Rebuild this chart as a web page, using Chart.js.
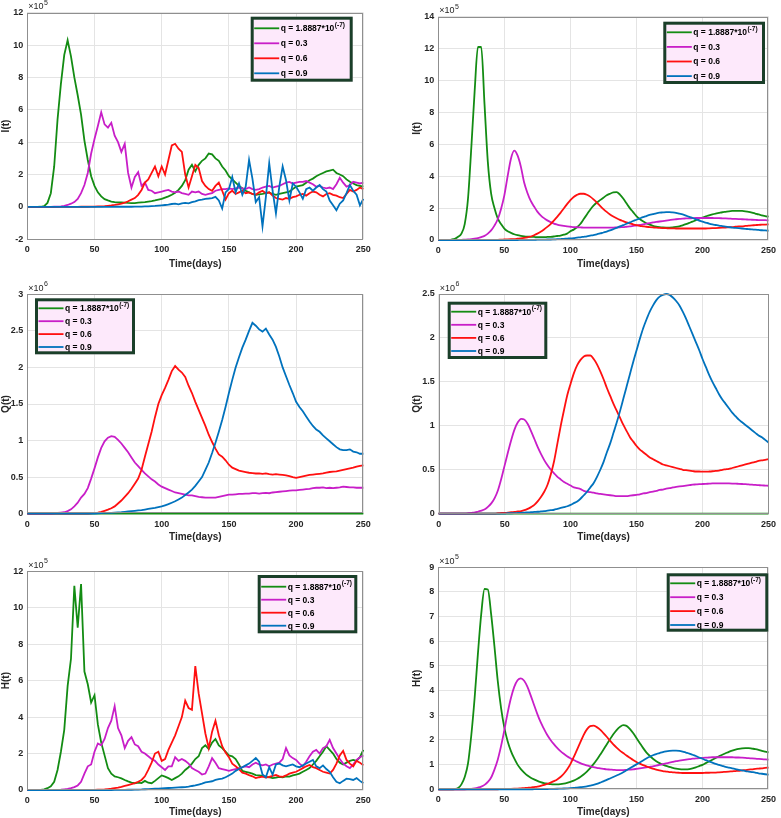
<!DOCTYPE html>
<html>
<head>
<meta charset="utf-8">
<script src="https://cdn.jsdelivr.net/npm/chart.js@4.4.1/dist/chart.umd.min.js"></script>
<style>
  body { margin: 0; background: #fff; width: 781px; height: 818px; position: relative; overflow: hidden; }
  canvas { position: absolute; }
</style>
</head>
<body>
<canvas id="iSde" width="390" height="280" style="left:0;top:0"></canvas>
<canvas id="iOde" width="391" height="280" style="left:390px;top:0"></canvas>
<canvas id="qSde" width="390" height="290" style="left:0;top:265px"></canvas>
<canvas id="qOde" width="391" height="290" style="left:390px;top:265px"></canvas>
<canvas id="hSde" width="390" height="280" style="left:0;top:540px"></canvas>
<canvas id="hOde" width="391" height="280" style="left:390px;top:540px"></canvas>
<script>
// sampling grid (days)
const DAYS = [
  0,2.5,5,7.5,10,12.5,15,17.5,20,22.5,
  25,27.5,30,32.5,35,37.5,40,42.5,45,47.5,
  50,52.5,55,57.5,60,62.5,65,67.5,70,72.5,
  75,77.5,80,82.5,85,87.5,90,92.5,95,97.5,
  100,102.5,105,107.5,110,112.5,115,117.5,120,122.5,
  125,127.5,130,132.5,135,137.5,140,142.5,145,147.5,
  150,152.5,155,157.5,160,162.5,165,167.5,170,172.5,
  175,177.5,180,182.5,185,187.5,190,192.5,195,197.5,
  200,202.5,205,207.5,210,212.5,215,217.5,220,222.5,
  225,227.5,230,232.5,235,237.5,240,242.5,245,247.5,
  250
];

const LEGEND_LABELS = ['q = 1.8887*10', 'q = 0.3', 'q = 0.6', 'q = 0.9'];
const LEGEND_SUP = '(-7)';
const X_TICKS = [0, 50, 100, 150, 200, 250];

// I(t), stochastic, x10^5
const I_SDE_G = [
  0,0,0,0,0.01,0.05,0.25,0.85,2.5,5.4,
  7.6,9.4,10.3,9.3,8.0,6.9,5.7,4.1,2.9,1.9,
  1.3,0.9,0.65,0.48,0.4,0.33,0.3,0.28,0.28,0.27,
  0.25,0.24,0.24,0.26,0.28,0.3,0.33,0.36,0.4,0.45,
  0.5,0.58,0.65,0.75,0.88,1.05,1.3,1.65,2.3,2.6,
  2.2,2.6,2.85,3.0,3.3,3.25,3.0,2.85,2.5,2.25,
  1.9,1.7,1.5,1.3,1.15,1.0,0.9,0.8,0.75,0.78,
  0.8,0.85,0.9,0.8,0.75,0.8,0.85,0.9,0.95,1.1,
  1.25,1.3,1.35,1.5,1.65,1.75,1.9,2.0,2.1,2.2,
  2.25,2.3,2.1,2.0,1.9,1.7,1.55,1.45,1.35,1.3,
  1.25
];
const I_SDE_M = [
  0,0,0,0,0,0,0,0,0.01,0.02,
  0.04,0.07,0.12,0.2,0.3,0.5,0.85,1.35,2.1,3.3,
  4.2,5.0,5.85,5.1,4.9,5.2,4.4,4.0,3.4,3.9,
  2.1,1.2,1.85,2.15,1.3,1.5,1.05,1.0,0.85,0.9,
  0.95,1.0,1.05,0.95,0.9,0.95,0.85,0.8,0.75,0.95,
  0.9,0.95,0.8,0.75,0.8,0.85,1.0,1.05,1.1,1.1,
  1.15,1.1,1.15,1.2,1.15,1.1,1.2,1.1,1.05,1.1,
  1.2,1.25,1.3,1.2,1.25,1.3,1.4,1.5,1.55,1.45,
  1.5,1.55,1.55,1.6,1.5,1.4,1.25,1.3,1.2,1.15,
  1.2,1.1,1.4,1.8,1.5,1.25,1.35,1.55,1.5,1.45,
  1.5
];
const I_SDE_R = [
  0,0,0,0,0,0,0,0,0,0,
  0,0,0,0,0,0,0.01,0.01,0.01,0.02,
  0.02,0.03,0.04,0.05,0.07,0.09,0.12,0.16,0.2,0.26,
  0.35,0.45,0.55,0.75,1.05,1.5,1.7,2.1,2.5,1.9,
  2.5,2.0,2.9,3.8,3.9,3.6,3.4,2.0,1.2,1.9,
  2.6,2.4,1.6,1.3,1.1,1.0,1.3,1.5,1.0,0.45,
  0.85,1.0,0.8,0.9,1.0,0.85,0.9,0.8,0.75,0.9,
  1.0,0.85,0.9,0.7,0.55,0.5,0.45,0.55,0.5,0.6,
  0.65,0.75,0.8,0.7,0.85,0.95,0.9,0.75,0.65,0.8,
  0.85,0.75,0.7,0.6,0.55,0.8,1.05,0.95,1.05,1.2,
  1.1
];
const I_SDE_B = [
  0,0,0,0,0,0,0,0,0,0,
  0,0,0,0,0,0,0,0,0,0,
  0,0,0,0,0,0,0.01,0.01,0.01,0.01,
  0.01,0.01,0.02,0.02,0.02,0.03,0.04,0.05,0.06,0.08,
  0.1,0.12,0.14,0.18,0.2,0.16,0.22,0.25,0.22,0.3,
  0.35,0.42,0.45,0.5,0.52,0.55,0.62,0.4,-0.1,0.9,
  1.1,1.85,0.9,1.45,0.75,1.25,2.9,1.75,0.3,0.6,
  -1.2,0.6,2.7,1.0,-0.4,1.25,2.5,1.65,0.4,1.45,
  1.25,0.9,0.5,1.1,1.2,1.0,1.2,1.35,1.1,0.95,
  0.4,0.1,-0.2,0.2,0.4,0.85,1.35,1.0,0.75,0.1,
  0.5
];

// I(t), deterministic, x10^5
const I_ODE_G = [
  0,0,0,0.01,0.03,0.08,0.2,0.4,1.0,2.6,
  5.8,9.3,12.1,12.1,8.5,4.9,2.9,2.0,1.35,1.0,
  0.72,0.55,0.45,0.36,0.3,0.26,0.23,0.21,0.2,0.19,
  0.18,0.18,0.18,0.19,0.2,0.22,0.25,0.28,0.33,0.4,
  0.55,0.65,0.8,1.0,1.3,1.6,1.9,2.15,2.35,2.5,
  2.65,2.8,2.9,2.98,3.0,2.85,2.6,2.3,2.0,1.75,
  1.5,1.32,1.17,1.05,0.96,0.89,0.84,0.81,0.79,0.78,
  0.78,0.79,0.82,0.86,0.92,0.99,1.07,1.15,1.24,1.33,
  1.41,1.48,1.55,1.61,1.66,1.7,1.74,1.77,1.8,1.82,
  1.83,1.83,1.82,1.8,1.77,1.72,1.66,1.6,1.55,1.5,
  1.46
];
const I_ODE_M = [
  0,0,0,0,0,0,0,0.01,0.02,0.03,
  0.05,0.08,0.12,0.18,0.26,0.4,0.6,0.9,1.3,1.95,
  2.8,4.0,5.1,5.6,5.3,4.6,3.6,2.95,2.45,2.1,
  1.78,1.55,1.37,1.23,1.12,1.03,0.97,0.92,0.88,0.85,
  0.83,0.81,0.8,0.79,0.78,0.77,0.77,0.77,0.77,0.77,
  0.77,0.77,0.78,0.78,0.79,0.8,0.81,0.83,0.85,0.88,
  0.91,0.94,0.98,1.02,1.06,1.1,1.13,1.16,1.19,1.22,
  1.25,1.28,1.3,1.32,1.34,1.35,1.36,1.37,1.38,1.38,
  1.38,1.38,1.38,1.38,1.37,1.37,1.36,1.35,1.34,1.33,
  1.32,1.31,1.3,1.29,1.28,1.27,1.26,1.25,1.24,1.24,
  1.23
];
const I_ODE_R = [
  0,0,0,0,0,0,0,0,0,0,
  0,0,0,0,0,0,0,0.01,0.01,0.02,
  0.03,0.04,0.05,0.06,0.08,0.1,0.13,0.17,0.22,0.3,
  0.4,0.52,0.66,0.82,1.0,1.22,1.45,1.7,1.98,2.25,
  2.5,2.7,2.83,2.9,2.9,2.84,2.72,2.55,2.35,2.14,
  1.94,1.76,1.6,1.47,1.36,1.26,1.18,1.1,1.04,0.98,
  0.93,0.89,0.86,0.83,0.81,0.79,0.77,0.76,0.75,0.74,
  0.73,0.73,0.72,0.72,0.72,0.72,0.72,0.72,0.72,0.72,
  0.72,0.72,0.73,0.74,0.75,0.76,0.77,0.78,0.8,0.81,
  0.83,0.85,0.86,0.88,0.9,0.92,0.93,0.95,0.96,0.97,
  0.98
];
const I_ODE_B = [
  0,0,0,0,0,0,0,0,0,0,
  0,0,0,0,0,0,0,0,0,0,
  0,0,0,0,0,0.01,0.01,0.01,0.01,0.01,
  0.02,0.02,0.02,0.03,0.03,0.04,0.05,0.06,0.07,0.09,
  0.1,0.12,0.15,0.17,0.2,0.23,0.27,0.31,0.36,0.41,
  0.47,0.53,0.6,0.68,0.76,0.85,0.93,1.02,1.1,1.19,
  1.27,1.35,1.43,1.5,1.57,1.62,1.67,1.71,1.73,1.75,
  1.75,1.73,1.7,1.65,1.6,1.53,1.45,1.38,1.3,1.22,
  1.15,1.09,1.03,0.98,0.94,0.9,0.87,0.84,0.81,0.78,
  0.76,0.74,0.72,0.7,0.68,0.66,0.65,0.63,0.61,0.6,
  0.58
];

// Q(t), stochastic, x10^6
const Q_SDE_G = [
  0,0,0,0,0,0,0,0,0,0,
  0,0,0,0,0,0,0,0,0,0,
  0,0,0,0,0,0,0,0,0,0,
  0,0,0,0,0,0,0,0,0,0,
  0,0,0,0,0,0,0,0,0,0,
  0,0,0,0,0,0,0,0,0,0,
  0,0,0,0,0,0,0,0,0,0,
  0,0,0,0,0,0,0,0,0,0,
  0,0,0,0,0,0,0,0,0,0,
  0,0,0,0,0,0,0,0,0,0,
  0
];
const Q_SDE_M = [
  0,0,0,0,0,0,0,0.002,0.005,0.01,
  0.015,0.02,0.035,0.06,0.1,0.15,0.22,0.27,0.35,0.48,
  0.62,0.77,0.9,0.99,1.04,1.06,1.05,1.01,0.96,0.9,
  0.84,0.77,0.7,0.65,0.6,0.55,0.51,0.47,0.44,0.4,
  0.37,0.35,0.33,0.31,0.29,0.28,0.27,0.26,0.25,0.25,
  0.24,0.23,0.225,0.22,0.22,0.22,0.22,0.23,0.24,0.25,
  0.26,0.26,0.265,0.27,0.27,0.275,0.275,0.28,0.28,0.275,
  0.28,0.285,0.28,0.29,0.295,0.3,0.305,0.31,0.315,0.32,
  0.32,0.325,0.33,0.335,0.34,0.35,0.355,0.355,0.36,0.35,
  0.355,0.35,0.355,0.36,0.37,0.365,0.36,0.36,0.355,0.355,
  0.355
];
const Q_SDE_R = [
  0,0,0,0,0,0,0,0,0,0,
  0,0,0,0,0,0,0,0,0,0.005,
  0.01,0.015,0.025,0.04,0.055,0.075,0.1,0.14,0.18,0.23,
  0.28,0.34,0.41,0.48,0.6,0.78,0.95,1.12,1.32,1.5,
  1.62,1.72,1.83,1.95,2.02,1.97,1.93,1.87,1.75,1.65,
  1.53,1.42,1.31,1.2,1.08,0.98,0.89,0.81,0.78,0.73,
  0.67,0.63,0.61,0.59,0.58,0.57,0.56,0.555,0.55,0.55,
  0.545,0.55,0.54,0.535,0.54,0.535,0.53,0.525,0.515,0.5,
  0.49,0.5,0.51,0.52,0.53,0.535,0.54,0.545,0.55,0.56,
  0.57,0.575,0.58,0.59,0.6,0.61,0.62,0.63,0.645,0.655,
  0.66
];
const Q_SDE_B = [
  0,0,0,0,0,0,0,0,0,0,
  0,0,0,0,0,0,0,0,0,0,
  0,0.005,0.008,0.01,0.01,0.012,0.015,0.018,0.02,0.025,
  0.03,0.035,0.04,0.045,0.05,0.057,0.065,0.072,0.08,0.09,
  0.1,0.115,0.13,0.15,0.17,0.195,0.22,0.255,0.29,0.33,
  0.38,0.44,0.5,0.6,0.7,0.83,0.97,1.12,1.28,1.46,
  1.65,1.83,2.0,2.14,2.27,2.38,2.5,2.61,2.57,2.52,
  2.49,2.53,2.45,2.38,2.28,2.15,2.0,1.88,1.76,1.65,
  1.53,1.46,1.4,1.33,1.26,1.2,1.15,1.12,1.07,1.03,
  0.99,0.95,0.91,0.88,0.87,0.87,0.88,0.85,0.84,0.82,
  0.82
];

// Q(t), deterministic, x10^6
const Q_ODE_G = [
  0,0,0,0,0,0,0,0,0,0,
  0,0,0,0,0,0,0,0,0,0,
  0,0,0,0,0,0,0,0,0,0,
  0,0,0,0,0,0,0,0,0,0,
  0,0,0,0,0,0,0,0,0,0,
  0,0,0,0,0,0,0,0,0,0,
  0,0,0,0,0,0,0,0,0,0,
  0,0,0,0,0,0,0,0,0,0,
  0,0,0,0,0,0,0,0,0,0,
  0,0,0,0,0,0,0,0,0,0,
  0
];
const Q_ODE_M = [
  0,0,0,0,0,0,0,0,0,0.005,
  0.01,0.015,0.025,0.035,0.05,0.08,0.12,0.18,0.27,0.4,
  0.55,0.7,0.84,0.96,1.04,1.08,1.07,1.02,0.94,0.85,
  0.76,0.68,0.61,0.55,0.5,0.46,0.42,0.39,0.36,0.34,
  0.32,0.3,0.29,0.28,0.26,0.25,0.245,0.24,0.23,0.225,
  0.22,0.215,0.21,0.205,0.2,0.2,0.2,0.2,0.205,0.21,
  0.215,0.22,0.23,0.235,0.245,0.25,0.26,0.27,0.275,0.285,
  0.29,0.3,0.305,0.31,0.315,0.32,0.325,0.33,0.333,0.336,
  0.338,0.34,0.342,0.344,0.345,0.345,0.345,0.345,0.344,0.343,
  0.342,0.34,0.338,0.336,0.333,0.33,0.328,0.325,0.322,0.32,
  0.318
];
const Q_ODE_R = [
  0,0,0,0,0,0,0,0,0,0,
  0,0,0,0,0,0,0,0,0.005,0.008,
  0.01,0.013,0.017,0.02,0.025,0.03,0.04,0.055,0.075,0.1,
  0.14,0.19,0.25,0.33,0.45,0.6,0.8,1.0,1.18,1.35,
  1.48,1.6,1.69,1.75,1.79,1.8,1.8,1.76,1.7,1.62,
  1.53,1.43,1.34,1.25,1.17,1.09,1.01,0.94,0.87,0.82,
  0.77,0.73,0.7,0.67,0.64,0.62,0.6,0.58,0.56,0.55,
  0.54,0.53,0.52,0.51,0.5,0.495,0.49,0.485,0.48,0.48,
  0.478,0.478,0.48,0.483,0.487,0.49,0.5,0.505,0.51,0.52,
  0.53,0.54,0.55,0.56,0.57,0.58,0.59,0.6,0.607,0.613,
  0.62
];
const Q_ODE_B = [
  0,0,0,0,0,0,0,0,0,0,
  0,0,0,0,0,0,0,0,0,0,
  0,0.005,0.005,0.006,0.008,0.01,0.012,0.015,0.017,0.02,
  0.022,0.026,0.03,0.035,0.04,0.045,0.055,0.065,0.075,0.085,
  0.1,0.12,0.14,0.17,0.21,0.25,0.3,0.35,0.42,0.5,
  0.59,0.7,0.8,0.92,1.04,1.17,1.31,1.45,1.59,1.73,
  1.86,1.99,2.11,2.21,2.3,2.37,2.43,2.47,2.49,2.5,
  2.49,2.46,2.42,2.37,2.3,2.22,2.13,2.04,1.95,1.86,
  1.76,1.67,1.58,1.5,1.43,1.36,1.3,1.25,1.2,1.15,
  1.11,1.07,1.04,1.01,0.98,0.95,0.92,0.89,0.87,0.84,
  0.81
];

// H(t), stochastic, x10^5
const H_SDE_G = [
  0,0,0,0,0,0.03,0.1,0.2,0.45,1.1,
  2.1,3.3,5.7,7.2,11.2,8.9,11.3,6.5,5.8,4.8,
  5.2,3.6,2.6,1.9,1.2,0.9,0.75,0.7,0.64,0.55,
  0.47,0.4,0.37,0.4,0.38,0.5,0.4,0.37,0.5,0.65,
  0.8,0.73,0.65,0.55,0.65,0.75,0.9,1.1,1.25,1.45,
  1.7,1.85,2.3,2.45,2.25,2.6,2.8,2.45,2.3,2.1,
  1.9,1.85,1.7,1.4,1.05,1.0,0.95,0.9,0.82,0.8,
  0.78,0.72,0.7,0.65,0.68,0.72,0.7,0.75,0.73,0.8,
  0.85,0.9,1.0,1.1,1.2,1.4,1.6,1.85,2.1,2.4,
  2.2,2.0,1.7,1.5,1.4,1.5,1.6,1.65,1.6,1.8,
  2.2
];
const H_SDE_M = [
  0,0,0,0,0,0,0,0,0,0.01,
  0.02,0.04,0.06,0.1,0.16,0.25,0.45,0.9,1.3,1.4,
  2.1,2.55,2.45,2.8,3.4,3.8,4.6,3.4,3.0,2.3,
  2.7,2.9,2.5,2.4,2.1,2.0,1.85,1.7,1.6,1.4,
  1.25,1.1,1.3,1.3,1.8,1.6,1.7,1.6,1.45,1.2,
  1.1,1.0,0.85,0.9,1.3,1.75,1.5,1.2,1.15,1.1,
  1.05,1.1,1.15,1.2,1.25,1.3,1.25,1.4,1.5,1.4,
  1.35,1.4,1.3,1.4,1.45,1.5,1.7,2.3,1.9,1.75,
  1.65,1.45,1.3,1.55,1.85,2.1,2.2,2.0,2.3,2.4,
  2.75,2.3,2.0,1.7,1.45,1.3,1.2,1.4,1.65,1.8,
  1.9
];
const H_SDE_R = [
  0,0,0,0,0,0,0,0,0,0,
  0,0,0,0,0,0,0,0,0,0,
  0.01,0.015,0.02,0.03,0.05,0.07,0.1,0.13,0.17,0.22,
  0.27,0.32,0.38,0.45,0.55,0.75,1.1,1.5,2.0,2.1,
  1.6,1.7,2.2,2.6,3.0,3.5,4.0,4.9,4.5,4.4,
  6.8,5.3,4.2,3.1,2.3,3.2,3.8,3.0,2.4,2.05,
  1.8,1.45,1.3,1.15,0.95,0.9,0.82,0.75,0.65,0.7,
  0.73,0.68,0.72,0.78,0.82,0.75,0.72,0.8,0.9,0.95,
  1.0,1.1,1.2,1.3,1.37,1.25,1.2,1.1,1.0,0.95,
  0.9,1.1,1.45,1.9,2.15,1.65,1.45,1.3,1.6,1.5,
  1.35
];
const H_SDE_B = [
  0,0,0,0,0,0,0,0,0,0,
  0,0,0,0,0,0,0,0,0,0,
  0,0,0,0,0,0,0.005,0.005,0.01,0.01,
  0.015,0.015,0.02,0.025,0.03,0.04,0.05,0.06,0.07,0.08,
  0.09,0.1,0.11,0.12,0.13,0.14,0.15,0.16,0.18,0.22,
  0.25,0.3,0.35,0.42,0.45,0.48,0.55,0.6,0.62,0.7,
  0.8,0.9,1.05,1.15,1.25,1.35,1.45,1.6,1.75,1.55,
  0.85,0.7,1.25,0.85,1.4,1.45,1.35,1.3,1.35,1.4,
  1.3,1.25,1.35,1.45,1.55,1.65,1.3,1.2,1.35,1.15,
  1.0,0.7,0.45,0.37,0.5,0.62,0.6,0.55,0.65,0.5,
  0.37
];

// H(t), deterministic, x10^5
const H_ODE_G = [
  0,0,0,0,0,0.01,0.05,0.2,0.5,1.05,
  2.2,3.7,5.5,7.1,8.12,8.1,7.1,5.8,4.4,3.3,
  2.5,1.95,1.55,1.25,1.0,0.82,0.68,0.56,0.47,0.4,
  0.34,0.29,0.25,0.23,0.21,0.2,0.2,0.21,0.23,0.26,
  0.3,0.35,0.42,0.5,0.6,0.72,0.86,1.02,1.2,1.4,
  1.6,1.82,2.03,2.23,2.4,2.53,2.6,2.57,2.45,2.28,
  2.08,1.88,1.68,1.5,1.36,1.24,1.14,1.06,1.0,0.95,
  0.91,0.87,0.84,0.82,0.81,0.81,0.82,0.85,0.89,0.94,
  0.99,1.06,1.13,1.2,1.27,1.34,1.4,1.46,1.52,1.57,
  1.61,1.64,1.66,1.67,1.67,1.65,1.63,1.6,1.56,1.53,
  1.5
];
const H_ODE_M = [
  0,0,0,0,0,0,0,0,0,0.01,
  0.02,0.04,0.07,0.11,0.18,0.3,0.48,0.8,1.2,1.75,
  2.4,3.1,3.7,4.15,4.42,4.5,4.4,4.15,3.8,3.42,
  3.05,2.72,2.45,2.2,2.0,1.83,1.68,1.55,1.44,1.34,
  1.26,1.19,1.12,1.06,1.01,0.97,0.93,0.9,0.87,0.85,
  0.83,0.81,0.8,0.79,0.78,0.78,0.78,0.79,0.8,0.81,
  0.83,0.85,0.87,0.89,0.91,0.93,0.96,0.99,1.02,1.05,
  1.08,1.11,1.14,1.16,1.18,1.2,1.22,1.24,1.25,1.26,
  1.27,1.28,1.29,1.3,1.3,1.3,1.3,1.3,1.3,1.3,
  1.29,1.29,1.28,1.27,1.26,1.25,1.24,1.23,1.22,1.21,
  1.2
];
const H_ODE_R = [
  0,0,0,0,0,0,0,0,0,0,
  0,0,0,0,0,0,0,0,0,0.01,
  0.01,0.015,0.02,0.025,0.03,0.04,0.05,0.06,0.07,0.09,
  0.11,0.14,0.18,0.22,0.27,0.33,0.4,0.5,0.63,0.8,
  1.02,1.3,1.6,1.9,2.2,2.43,2.56,2.58,2.52,2.42,
  2.28,2.13,1.97,1.82,1.69,1.57,1.47,1.37,1.28,1.19,
  1.11,1.04,0.98,0.93,0.88,0.84,0.8,0.77,0.74,0.72,
  0.7,0.69,0.68,0.67,0.66,0.66,0.66,0.66,0.66,0.66,
  0.66,0.67,0.67,0.68,0.68,0.69,0.7,0.71,0.72,0.73,
  0.74,0.75,0.77,0.78,0.8,0.81,0.83,0.84,0.85,0.87,
  0.88
];
const H_ODE_B = [
  0,0,0,0,0,0,0,0,0,0,
  0,0,0,0,0,0,0,0,0,0,
  0,0,0,0,0,0,0,0,0,0.005,
  0.007,0.008,0.01,0.012,0.015,0.018,0.022,0.027,0.032,0.038,
  0.045,0.055,0.07,0.085,0.1,0.12,0.15,0.18,0.22,0.27,
  0.32,0.38,0.44,0.5,0.56,0.62,0.69,0.77,0.85,0.93,
  1.01,1.09,1.17,1.25,1.32,1.38,1.43,1.47,1.51,1.54,
  1.56,1.57,1.57,1.56,1.53,1.49,1.45,1.4,1.35,1.29,
  1.24,1.18,1.13,1.08,1.03,0.99,0.95,0.91,0.88,0.85,
  0.82,0.79,0.77,0.74,0.72,0.7,0.68,0.65,0.63,0.61,
  0.59
];

const SERIES_COLORS = ['#138c13', '#c81ec8', '#ff1010', '#0072bd'];
const INK = '#262626';
Chart.defaults.font.family = '"Liberation Sans", Arial, Helvetica, sans-serif';
Chart.defaults.color = INK;

// MATLAB-like box, exponent label and legend box
const matlabPlugin = {
  id: 'matlab',
  afterDraw(chart, args, o) {
    const ctx = chart.ctx;
    const a = chart.chartArea;
    ctx.save();
    ctx.strokeStyle = '#8f8f8f';
    ctx.lineWidth = 1;
    ctx.strokeRect(Math.round(a.left) + 0.5, Math.round(a.top) + 0.5,
      Math.round(a.width) - 1, Math.round(a.height) - 1);

    // x10^n
    ctx.fillStyle = INK;
    ctx.textBaseline = 'alphabetic';
    ctx.textAlign = 'left';
    ctx.font = '9px "Liberation Sans", Arial, sans-serif';
    ctx.fillText('\u00d710', a.left + 1, a.top - 3.5);
    const w = ctx.measureText('\u00d710').width;
    ctx.font = '7px "Liberation Sans", Arial, sans-serif';
    ctx.fillText(o.exp, a.left + 1.5 + w, a.top - 8);

    // legend
    const L = o.legend;
    ctx.fillStyle = '#fde9fb';
    ctx.fillRect(L.x, L.y, L.w, L.h);
    ctx.strokeStyle = '#1a3f29';
    ctx.lineWidth = 3;
    ctx.strokeRect(L.x + 1.5, L.y + 1.5, L.w - 3, L.h - 3);
    ctx.textBaseline = 'middle';
    LEGEND_LABELS.forEach((txt, k) => {
      const y = L.y + L.r0 + k * L.step;
      ctx.strokeStyle = SERIES_COLORS[k];
      ctx.lineWidth = 1.8;
      ctx.beginPath();
      ctx.moveTo(L.x + 3.5, y);
      ctx.lineTo(L.x + 28.5, y);
      ctx.stroke();
      ctx.fillStyle = '#000';
      ctx.font = 'bold 8.5px "Liberation Sans", Arial, sans-serif';
      ctx.fillText(txt, L.x + 30, y + 0.5);
      if (k === 0) {
        const tw = ctx.measureText(txt).width;
        ctx.font = 'bold 6.5px "Liberation Sans", Arial, sans-serif';
        ctx.fillText(LEGEND_SUP, L.x + 30.5 + tw, y - 3.5);
      }
    });
    ctx.restore();
  }
};

function makePanel(id, p) {
  const datasets = p.series.map((vals, k) => ({
    label: LEGEND_LABELS[k],
    data: vals.map((v, i) => ({ x: DAYS[i], y: v })),
    borderColor: SERIES_COLORS[k],
    backgroundColor: SERIES_COLORS[k],
    borderWidth: 1.8,
    pointRadius: 0,
    tension: 0,
    cubicInterpolationMode: p.smooth ? 'monotone' : 'default',
    clip: false,
    order: 4 - k
  }));
  new Chart(document.getElementById(id).getContext('2d'), {
    type: 'line',
    data: { datasets },
    plugins: [matlabPlugin],
    options: {
      responsive: false,
      animation: false,
      events: [],
      layout: { padding: { top: p.top, right: p.right, left: 0, bottom: 0 } },
      plugins: {
        legend: { display: false },
        tooltip: { enabled: false },
        matlab: { exp: p.exp, legend: p.legend }
      },
      scales: {
        x: {
          type: 'linear',
          min: 0, max: 250,
          afterBuildTicks: s => { s.ticks = X_TICKS.map(v => ({ value: v })); },
          afterFit: s => { s.height = p.axisH; },
          grid: { color: '#e4e4e4', drawTicks: false },
          border: { display: false },
          ticks: { padding: 5, maxRotation: 0, color: INK, font: { size: 9, weight: 'bold' } },
          title: {
            display: true, text: 'Time(days)', color: INK,
            font: { size: 10, weight: 'bold' },
            padding: { top: 0, bottom: p.xTitlePad }
          }
        },
        y: {
          min: p.yMin, max: p.yMax,
          afterBuildTicks: s => { s.ticks = p.yTicks.map(v => ({ value: v })); },
          afterFit: s => { s.width = p.axisW; },
          grid: { color: '#e4e4e4', drawTicks: false },
          border: { display: false },
          ticks: {
            padding: 4, color: INK, font: { size: 9, weight: 'bold' },
            callback: v => String(+v.toFixed(2))
          },
          title: {
            display: true, text: p.yTitle, color: INK,
            font: { size: 10, weight: 'bold' },
            padding: { top: p.yTitlePad, bottom: 0 }
          }
        }
      }
    }
  });
}

const Y_I_SDE = [-2, 0, 2, 4, 6, 8, 10, 12];
const Y_I_ODE = [0, 2, 4, 6, 8, 10, 12, 14];
const Y_Q_SDE = [0, 0.5, 1, 1.5, 2, 2.5, 3];
const Y_Q_ODE = [0, 0.5, 1, 1.5, 2, 2.5];
const Y_H_SDE = [0, 2, 4, 6, 8, 10, 12];
const Y_H_ODE = [0, 1, 2, 3, 4, 5, 6, 7, 8, 9];

makePanel('iSde', {
  series: [I_SDE_G, I_SDE_M, I_SDE_R, I_SDE_B], smooth: false,
  yMin: -2, yMax: 12, yTicks: Y_I_SDE, yTitle: 'I(t)', exp: '5',
  top: 12.7, right: 26.7, axisW: 27.3, axisH: 40.7, xTitlePad: 9.7, yTitlePad: 0,
  legend: { x: 250.7, y: 16.7, w: 102, h: 65, r0: 11.6, step: 15 }
});
makePanel('iOde', {
  series: [I_ODE_G, I_ODE_M, I_ODE_R, I_ODE_B], smooth: true,
  yMin: 0, yMax: 14, yTicks: Y_I_ODE, yTitle: 'I(t)', exp: '5',
  top: 16.7, right: 7, axisW: 48.3, axisH: 40, xTitlePad: 9.7, yTitlePad: 21,
  legend: { x: 273.3, y: 21.7, w: 101.7, h: 62.3, r0: 10.6, step: 14.6 }
});
makePanel('qSde', {
  series: [Q_SDE_G, Q_SDE_M, Q_SDE_R, Q_SDE_B], smooth: false,
  yMin: 0, yMax: 3, yTicks: Y_Q_SDE, yTitle: 'Q(t)', exp: '6',
  top: 29.3, right: 26.7, axisW: 27.3, axisH: 41.3, xTitlePad: 12, yTitlePad: 0,
  legend: { x: 35, y: 33.3, w: 100, h: 56, r0: 10, step: 12.9 }
});
makePanel('qOde', {
  series: [Q_ODE_G, Q_ODE_M, Q_ODE_R, Q_ODE_B], smooth: true,
  yMin: 0, yMax: 2.5, yTicks: Y_Q_ODE, yTitle: 'Q(t)', exp: '6',
  top: 29, right: 7, axisW: 48.7, axisH: 41.3, xTitlePad: 12, yTitlePad: 21,
  legend: { x: 57.7, y: 36.7, w: 99.6, h: 57.3, r0: 10, step: 13.1 }
});
makePanel('hSde', {
  series: [H_SDE_G, H_SDE_M, H_SDE_R, H_SDE_B], smooth: false,
  yMin: 0, yMax: 12, yTicks: Y_H_SDE, yTitle: 'H(t)', exp: '5',
  top: 31.3, right: 26.7, axisW: 27.3, axisH: 30, xTitlePad: 1.3, yTitlePad: 0,
  legend: { x: 257.7, y: 35, w: 99.6, h: 58.3, r0: 11.7, step: 13 }
});
makePanel('hOde', {
  series: [H_ODE_G, H_ODE_M, H_ODE_R, H_ODE_B], smooth: true,
  yMin: 0, yMax: 9, yTicks: Y_H_ODE, yTitle: 'H(t)', exp: '5',
  top: 27.3, right: 7, axisW: 48.3, axisH: 30.7, xTitlePad: 1.3, yTitlePad: 21,
  legend: { x: 276.7, y: 33.3, w: 101.6, h: 58.4, r0: 10, step: 13.9 }
});
</script>
</body>
</html>
